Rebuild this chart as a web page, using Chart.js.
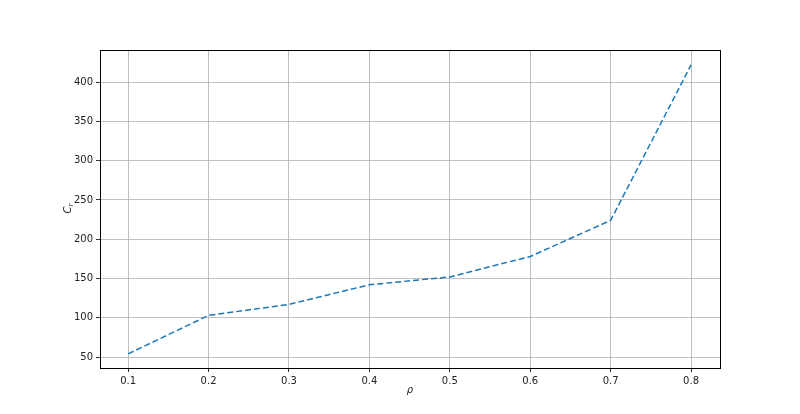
<!DOCTYPE html>
<html>
<head>
<meta charset="utf-8">
<script src="https://cdn.jsdelivr.net/npm/chart.js@4/dist/chart.umd.min.js"></script>
<style>
  html, body { margin: 0; padding: 0; background: #fff; }
  #wrap { width: 800px; height: 414px; position: relative; }
</style>
</head>
<body>
<div id="wrap"><canvas id="chart"></canvas></div>
<script>
// valores
const rho = [0.1, 0.2, 0.3, 0.4, 0.5, 0.6, 0.7, 0.8];
const cr = [54, 103, 117, 142, 152, 178, 224, 422];
const xTicks = [0.1, 0.2, 0.3, 0.4, 0.5, 0.6, 0.7, 0.8];
const yTicks = [50, 100, 150, 200, 250, 300, 350, 400];

// marco completo y títulos de los ejes
const boxPlugin = {
    id: 'box',
    afterDraw(chart) {
        const a = chart.chartArea;
        const ctx = chart.ctx;
        ctx.save();
        ctx.strokeStyle = '#000';
        ctx.lineWidth = 1;
        ctx.strokeRect(a.left + 0.5, a.top + 0.5, a.right - a.left, a.bottom - a.top);

        ctx.fillStyle = '#222';
        ctx.textAlign = 'center';
        ctx.textBaseline = 'middle';
        ctx.font = 'italic 10px "DejaVu Sans"';
        ctx.fillText('ρ', (a.left + a.right) / 2, a.bottom + 22);

        ctx.translate(a.left - 32, (a.top + a.bottom) / 2);
        ctx.rotate(-Math.PI / 2);
        ctx.fillText('C', -1, 0);
        ctx.font = 'italic 7px "DejaVu Sans"';
        ctx.fillText('r', 4, 3);
        ctx.restore();
    }
};

const tickFont = { family: 'DejaVu Sans', size: 10 };

new Chart(document.getElementById('chart'), {
    type: 'line',
    data: {
        datasets: [{
            data: rho.map((x, i) => ({ x: x, y: cr[i] })),
            borderColor: '#1f77b4',
            borderWidth: 1.5,
            borderDash: [6, 3],
            pointRadius: 0,
            fill: false,
            tension: 0
        }]
    },
    options: {
        responsive: true,
        maintainAspectRatio: false,
        animation: false,
        layout: { padding: { left: 0, right: 80, top: 50, bottom: 0 } },
        plugins: { legend: { display: false }, tooltip: { enabled: false } },
        scales: {
            x: {
                type: 'linear',
                min: 0.065,
                max: 0.836,
                afterBuildTicks: s => { s.ticks = xTicks.map(v => ({ value: v })); },
                afterFit: s => { s.height = 46; },
                ticks: {
                    font: tickFont,
                    color: '#222',
                    padding: 3,
                    maxRotation: 0,
                    callback: v => v.toFixed(1)
                },
                grid: { color: '#b0b0b0', lineWidth: 0.8, tickColor: '#000', tickLength: 4 },
                border: { color: '#000', width: 1 }
            },
            y: {
                min: 36,
                max: 441,
                afterBuildTicks: s => { s.ticks = yTicks.map(v => ({ value: v })); },
                afterFit: s => { s.width = 100; },
                ticks: { font: tickFont, color: '#222', padding: 3 },
                grid: { color: '#b0b0b0', lineWidth: 0.8, tickColor: '#000', tickLength: 4 },
                border: { color: '#000', width: 1 }
            }
        }
    },
    plugins: [boxPlugin]
});
</script>
</body>
</html>
